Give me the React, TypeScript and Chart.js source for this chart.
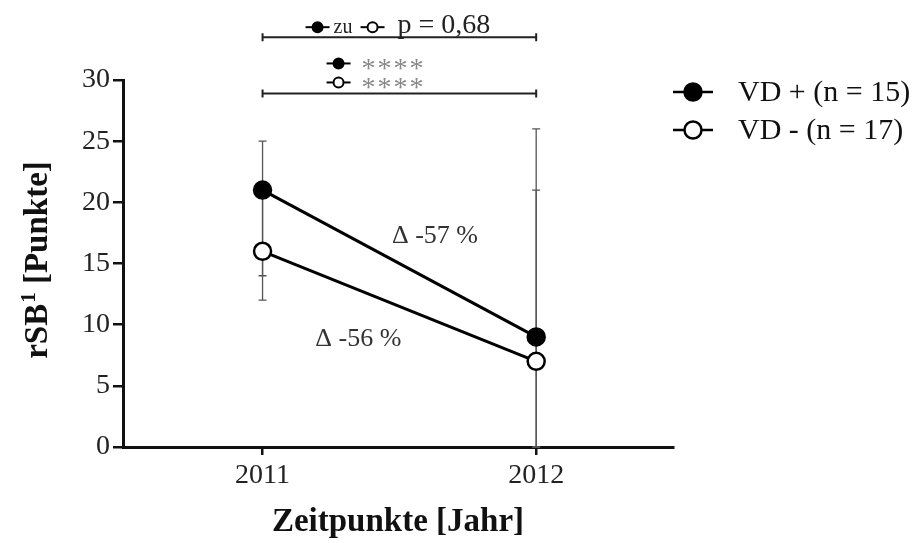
import React, { useEffect, useRef } from "react";
import { Chart, registerables } from "chart.js";

Chart.register(...registerables);

// Measurement years and group summaries (median with range)
const years = [2011, 2012];
const vdPlusMedian = [21, 9];
const vdPlusLow = [14, 0];
const vdPlusHigh = [25, 26];
const vdMinusMedian = [16, 7];
const vdMinusLow = [12, 0];
const vdMinusHigh = [21, 21];
const yTicks = [0, 5, 10, 15, 20, 25, 30];

const seriesLabels = ["VD + (n = 15)", "VD - (n = 17)"];
const changeLabels = ["Δ -57 %", "Δ -56 %"];
// anchor of each change label in data units (year, points)
const changeAnchors = [
  { x: 2011.63, y: 17.2 },
  { x: 2011.35, y: 8.8 },
];
const groupTestText = "p = 0,68";
const timeTestStars = 4;
// bracket heights in data units
const groupBracketLevel = 33.5;
const timeBracketLevel = 28.9;

const yTitleMain = "rSB";
const yTitleSup = "1";
const yTitleRest = " [Punkte]";

const FONT = '"Liberation Serif", "Times New Roman", Times, serif';

type Ctx = CanvasRenderingContext2D;

function marker(ctx: Ctx, cx: number, cy: number, r: number, filled: boolean, half: number, lw: number) {
  ctx.save();
  ctx.strokeStyle = "#000";
  ctx.lineWidth = lw;
  ctx.beginPath();
  ctx.moveTo(cx - half, cy);
  ctx.lineTo(cx + half, cy);
  ctx.stroke();
  ctx.beginPath();
  ctx.arc(cx, cy, r, 0, Math.PI * 2);
  ctx.fillStyle = filled ? "#000" : "#fff";
  ctx.fill();
  ctx.stroke();
  ctx.restore();
}

const errorBarPlugin = {
  id: "rangeBars",
  beforeDatasetsDraw(chart: any) {
    const { ctx, scales } = chart;
    const xs = scales.x;
    const ys = scales.y;
    const groups = [
      { lo: vdPlusLow, hi: vdPlusHigh },
      { lo: vdMinusLow, hi: vdMinusHigh },
    ];
    ctx.save();
    ctx.strokeStyle = "#555";
    ctx.lineWidth = 1.3;
    groups.forEach((g) => {
      years.forEach((yr, i) => {
        const px = xs.getPixelForValue(yr);
        const top = ys.getPixelForValue(g.hi[i]);
        const bot = ys.getPixelForValue(g.lo[i]);
        ctx.beginPath();
        ctx.moveTo(px, top);
        ctx.lineTo(px, bot);
        ctx.moveTo(px - 4, top);
        ctx.lineTo(px + 4, top);
        ctx.moveTo(px - 4, bot);
        ctx.lineTo(px + 4, bot);
        ctx.stroke();
      });
    });
    ctx.restore();
  },
};

const annotationPlugin = {
  id: "annotations",
  afterDraw(chart: any) {
    const { ctx, scales, chartArea } = chart;
    const xs = scales.x;
    const ys = scales.y;
    const x1 = xs.getPixelForValue(years[0]);
    const x2 = xs.getPixelForValue(years[1]);

    // y-axis title with superscript
    ctx.save();
    ctx.translate(38, (chartArea.top + chartArea.bottom) / 2 - 3);
    ctx.rotate(-Math.PI / 2);
    ctx.fillStyle = "#111";
    ctx.textBaseline = "middle";
    ctx.textAlign = "left";
    const big = `bold 33px ${FONT}`;
    const small = `bold 21px ${FONT}`;
    ctx.font = big;
    const wMain = ctx.measureText(yTitleMain).width;
    const wRest = ctx.measureText(yTitleRest).width;
    ctx.font = small;
    const wSup = ctx.measureText(yTitleSup).width;
    const total = wMain + wSup + wRest;
    let tx = -total / 2;
    ctx.font = big;
    ctx.fillText(yTitleMain, tx, 0);
    tx += wMain;
    ctx.font = small;
    ctx.fillText(yTitleSup, tx + 1, -8);
    tx += wSup + 1;
    ctx.font = big;
    ctx.fillText(yTitleRest, tx, 0);
    ctx.restore();

    // change labels
    ctx.save();
    ctx.fillStyle = "#333";
    ctx.font = `26px ${FONT}`;
    ctx.textAlign = "center";
    ctx.textBaseline = "middle";
    changeLabels.forEach((t, i) => {
      ctx.fillText(t, xs.getPixelForValue(changeAnchors[i].x), ys.getPixelForValue(changeAnchors[i].y));
    });
    ctx.restore();

    // significance brackets
    const bracket = (y: number) => {
      ctx.save();
      ctx.strokeStyle = "#222";
      ctx.lineWidth = 2;
      ctx.beginPath();
      ctx.moveTo(x1, y);
      ctx.lineTo(x2, y);
      ctx.moveTo(x1, y - 4);
      ctx.lineTo(x1, y + 4);
      ctx.moveTo(x2, y - 4);
      ctx.lineTo(x2, y + 4);
      ctx.stroke();
      ctx.restore();
    };
    const gy = ys.getPixelForValue(groupBracketLevel);
    const ty = ys.getPixelForValue(timeBracketLevel);
    bracket(gy);
    bracket(ty);

    // group comparison row
    marker(ctx, x1 + 55, gy - 10, 5, true, 12, 2);
    ctx.save();
    ctx.fillStyle = "#222";
    ctx.textBaseline = "alphabetic";
    ctx.textAlign = "left";
    ctx.font = `20px ${FONT}`;
    ctx.fillText("zu", x1 + 71, gy - 4);
    ctx.restore();
    marker(ctx, x1 + 110, gy - 10, 5, false, 12, 2);
    ctx.save();
    ctx.fillStyle = "#222";
    ctx.textAlign = "left";
    ctx.textBaseline = "alphabetic";
    ctx.font = `28px ${FONT}`;
    ctx.fillText(groupTestText, x1 + 135, gy - 4);
    ctx.restore();

    // time comparison rows
    const rowsY = [ty - 30, ty - 11];
    marker(ctx, x1 + 76, rowsY[0], 5, true, 12, 2);
    marker(ctx, x1 + 76, rowsY[1], 5, false, 12, 2);
    ctx.save();
    ctx.fillStyle = "#888";
    ctx.textAlign = "center";
    ctx.textBaseline = "alphabetic";
    ctx.font = `28px ${FONT}`;
    rowsY.forEach((ry) => {
      for (let k = 0; k < timeTestStars; k++) {
        ctx.fillText("*", x1 + 106 + k * 16, ry + 14);
      }
    });
    ctx.restore();

    // legend
    const lx = chartArea.right + 20;
    const rows = [92, 130];
    rows.forEach((y, i) => {
      marker(ctx, lx, y, 8.5, i === 0, 20, 2.5);
      ctx.save();
      ctx.fillStyle = "#111";
      ctx.font = `30px ${FONT}`;
      ctx.textAlign = "left";
      ctx.textBaseline = "middle";
      ctx.fillText(seriesLabels[i], lx + 45, y + 1);
      ctx.restore();
    });
  },
};

export default function App() {
  const ref = useRef<HTMLCanvasElement | null>(null);

  useEffect(() => {
    if (!ref.current) return;
    const toPoints = (vals: number[]) => years.map((x, i) => ({ x, y: vals[i] }));
    const chart = new Chart(ref.current, {
      type: "line",
      data: {
        datasets: [
          {
            label: seriesLabels[0],
            data: toPoints(vdPlusMedian),
            borderColor: "#000",
            borderWidth: 3,
            pointRadius: 8.5,
            pointBorderWidth: 2.5,
            pointBackgroundColor: "#000",
            pointBorderColor: "#000",
          },
          {
            label: seriesLabels[1],
            data: toPoints(vdMinusMedian),
            borderColor: "#000",
            borderWidth: 3,
            pointRadius: 8.5,
            pointBorderWidth: 2.5,
            pointBackgroundColor: "#fff",
            pointBorderColor: "#000",
          },
        ],
      },
      options: {
        animation: false,
        responsive: true,
        maintainAspectRatio: false,
        layout: { padding: { left: 0, top: 80, right: 240, bottom: 0 } },
        plugins: {
          legend: { display: false },
          tooltip: { enabled: false },
        },
        scales: {
          x: {
            type: "linear",
            min: 2010.49,
            max: 2012.5,
            afterBuildTicks: (scale: any) => {
              scale.ticks = years.map((v) => ({ value: v }));
            },
            afterFit: (scale: any) => {
              scale.height = 96;
            },
            ticks: {
              callback: (v: any) => String(v),
              color: "#222",
              font: { family: FONT, size: 28 },
              padding: 4,
              maxRotation: 0,
              autoSkip: false,
            },
            grid: {
              display: true,
              drawOnChartArea: false,
              drawTicks: true,
              tickLength: 8,
              color: "#111",
              lineWidth: 2.5,
            },
            border: { display: true, color: "#111", width: 3 },
            title: {
              display: true,
              text: "Zeitpunkte [Jahr]",
              color: "#111",
              font: { family: FONT, size: 33, weight: "bold" },
              padding: { top: 0, bottom: 1 },
            },
          },
          y: {
            type: "linear",
            min: 0,
            max: 30,
            afterBuildTicks: (scale: any) => {
              scale.ticks = yTicks.map((v) => ({ value: v }));
            },
            afterFit: (scale: any) => {
              scale.width = 123;
            },
            ticks: {
              color: "#222",
              font: { family: FONT, size: 28 },
              padding: 3,
            },
            grid: {
              display: true,
              drawOnChartArea: false,
              drawTicks: true,
              tickLength: 10,
              color: "#111",
              lineWidth: 2.5,
            },
            border: { display: true, color: "#111", width: 3 },
            title: { display: false },
          },
        },
      },
      plugins: [errorBarPlugin, annotationPlugin],
    });
    return () => chart.destroy();
  }, []);

  return (
    <div style={{ position: "fixed", left: 0, top: 0, width: 913, height: 543, background: "#fff" }}>
      <canvas ref={ref} />
    </div>
  );
}
